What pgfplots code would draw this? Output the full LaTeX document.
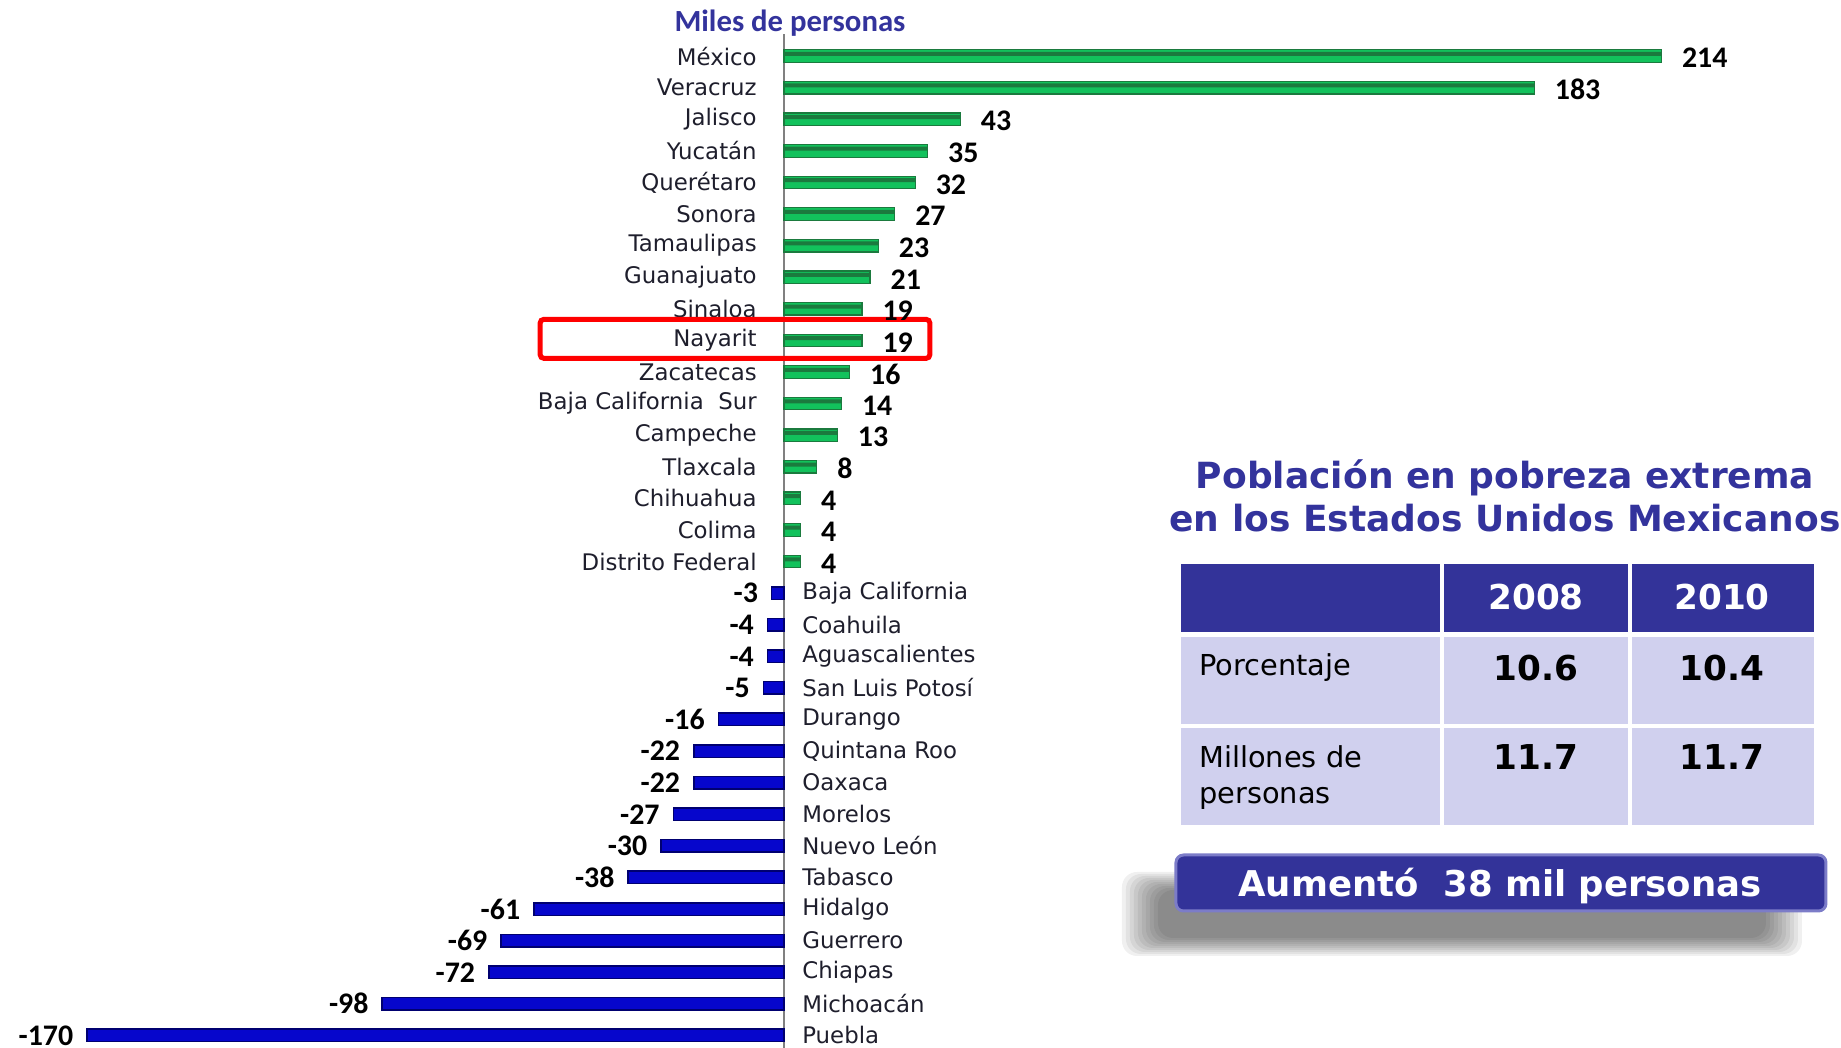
\documentclass[border=0pt]{standalone}
\usepackage{fontspec}
\usepackage{pgfplots}
\usepackage{pgfplotstable}
\pgfplotsset{compat=1.18}
\setmainfont{DejaVu Sans}
\newfontfamily\numfont{Carlito}

\definecolor{gfill}{HTML}{12C25C}
\definecolor{gdark}{HTML}{1B7A3E}
\definecolor{bfill}{HTML}{0606CC}
\definecolor{bdark}{HTML}{000070}
\definecolor{ttl}{HTML}{33339C}
\definecolor{hdr}{HTML}{333399}
\definecolor{cell}{HTML}{D0D0EE}
\definecolor{boxedge}{HTML}{7C7CC8}
\definecolor{labc}{HTML}{1E1E2C}

% increase (thousands of people), row 0 = top
\pgfplotstableread{
x y
214 0
183 1
43 2
35 3
32 4
27 5
23 6
21 7
19 8
19 9
16 10
14 11
13 12
8 13
4 14
4 15
4 16
}\pos
% decrease
\pgfplotstableread{
x y
-3 17
-4 18
-4 19
-5 20
-16 21
-22 22
-22 23
-27 24
-30 25
-38 26
-61 27
-69 28
-72 29
-98 30
-170 31
}\neg

\begin{document}
\begin{tikzpicture}
\useasboundingbox (0,0) rectangle (368.2mm,-209.6mm);
\begin{axis}[
  at={(1mm,-6.8mm)}, anchor=north west,
  scale only axis, width=336.2mm, height=202.8mm,
  xmin=-190, xmax=220, ymin=-0.7, ymax=31.4, y dir=reverse,
  axis x line=none, axis y line=middle,
  hide obscured y ticks=false,
  axis line style={-, draw=gray, line width=0.4mm},
  ytick={0,...,16},
  yticklabels={México, Veracruz, Jalisco, Yucatán, Querétaro, Sonora,
    Tamaulipas, Guanajuato, Sinaloa, Nayarit, Zacatecas,
    Baja California\ \ Sur, Campeche, Tlaxcala, Chihuahua, Colima,
    Distrito Federal},
  extra y ticks={17,...,31},
  extra y tick labels={Baja California, Coahuila, Aguascalientes,
    San Luis Potosí, Durango, Quintana Roo, Oaxaca, Morelos, Nuevo León,
    Tabasco, Hidalgo, Guerrero, Chiapas, Michoacán, Puebla},
  major tick length=0pt,
  yticklabel style={font=\fontsize{13}{15}\selectfont, text=labc,
    inner sep=0pt, anchor=east, xshift=-5.4mm},
  extra y tick style={yticklabel style={anchor=west, xshift=9mm}},
  clip=false,
  /pgf/number format/assume math mode=true,
  point meta=x,
]
\addplot[xbar, bar width=2.5mm, bar shift=0pt, draw=gdark, line width=0.25mm,
  fill=gfill,
  nodes near coords,
  every node near coord/.append style={
    font=\numfont\bfseries\fontsize{17}{20}\selectfont, text=black,
    inner sep=0pt, anchor=west, xshift=4mm, yshift=-0.4mm}]
  table[x=x, y=y] {\pos};
\addplot[xbar, bar width=0.8mm, bar shift=0.45mm, draw=none, fill=gdark]
  table[x=x, y=y] {\pos};
\addplot[xbar, bar width=2.5mm, bar shift=0pt, draw=bdark, line width=0.3mm,
  fill=bfill,
  nodes near coords,
  every node near coord/.append style={
    font=\numfont\bfseries\fontsize{17}{20}\selectfont, text=black,
    inner sep=0pt, anchor=east, xshift=-2.6mm, yshift=0mm}]
  table[x=x, y=y] {\neg};
% highlight Nayarit
\draw[red, line width=1mm, rounded corners=0.8mm]
  (axis cs:-59.5,8.33) rectangle (axis cs:35.6,9.57);
\end{axis}

\begin{scope}[x=0.2mm, y=-0.2mm]
\node[font=\numfont\bfseries\fontsize{17.5}{20}\selectfont, text=ttl] at (790,23) {Miles de personas};

\node[font=\bfseries\fontsize{20.5}{24}\selectfont, text=ttl] at (1505,478) {Población en pobreza extrema};
\node[font=\bfseries\fontsize{20.5}{24}\selectfont, text=ttl] at (1505,518) {en los Estados Unidos Mexicanos};

% table
\fill[hdr] (1181,564) rectangle (1440,632);
\fill[hdr] (1444,564) rectangle (1628,632);
\fill[hdr] (1632,564) rectangle (1814,632);
\fill[cell] (1181,637) rectangle (1440,724);
\fill[cell] (1444,637) rectangle (1628,724);
\fill[cell] (1632,637) rectangle (1814,724);
\fill[cell] (1181,728) rectangle (1440,825);
\fill[cell] (1444,728) rectangle (1628,825);
\fill[cell] (1632,728) rectangle (1814,825);
\node[font=\bfseries\fontsize{19.5}{22}\selectfont, text=white] at (1536,597) {2008};
\node[font=\bfseries\fontsize{19.5}{22}\selectfont, text=white] at (1722,597) {2010};
\node[font=\fontsize{16.4}{20}\selectfont, anchor=west, inner sep=0pt] at (1199,668) {Porcentaje};
\node[font=\bfseries\fontsize{19.5}{22}\selectfont] at (1536,668) {10.6};
\node[font=\bfseries\fontsize{19.5}{22}\selectfont] at (1722,668) {10.4};
\node[font=\fontsize{16.4}{20}\selectfont, anchor=west, inner sep=0pt] at (1199,757) {Millones de};
\node[font=\fontsize{16.4}{20}\selectfont, anchor=west, inner sep=0pt] at (1199,798) {personas};
\node[font=\bfseries\fontsize{19.5}{22}\selectfont] at (1536,757) {11.7};
\node[font=\bfseries\fontsize{19.5}{22}\selectfont] at (1722,757) {11.7};

% soft shadow under the box
\foreach \i in {0,...,9}
  \fill[black, opacity=0.06, rounded corners=3mm]
    (1122+4*\i, 872+2*\i) rectangle (1802-4*\i, 956-2*\i);
\draw[draw=boxedge, line width=0.6mm, fill=hdr, rounded corners=1.5mm]
  (1176,855) rectangle (1826,911);
\node[font=\bfseries\fontsize{20.2}{24}\selectfont, text=white] at (1500,886)
  {Aumentó\ \ 38 mil personas};
\end{scope}
\end{tikzpicture}
\end{document}
